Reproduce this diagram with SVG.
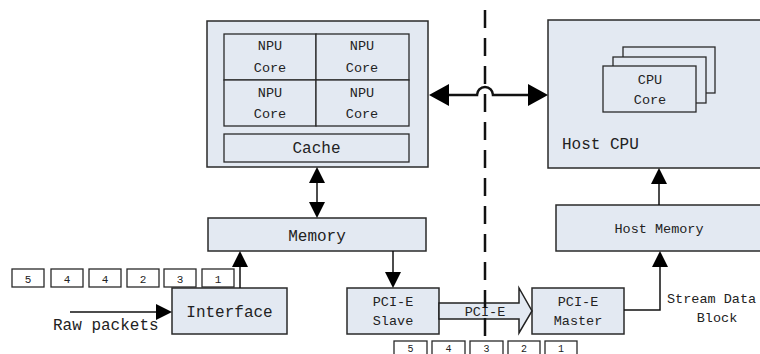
<svg xmlns="http://www.w3.org/2000/svg" width="760" height="354" viewBox="0 0 760 354">
<style>
.box{fill:#e3e9f2;stroke:#2a2a2a;stroke-width:1.5}
.inner{fill:#e3e9f2;stroke:#2a2a2a;stroke-width:1.3}
.pkt{fill:#ffffff;stroke:#2a2a2a;stroke-width:1.3}
.t16{font-family:"Liberation Mono","DejaVu Sans Mono",monospace;font-size:16px;fill:#222}
.t13{font-family:"Liberation Mono","DejaVu Sans Mono",monospace;font-size:13.5px;fill:#222}
.t11{font-family:"Liberation Mono","DejaVu Sans Mono",monospace;font-size:11px;fill:#222}
.t10{font-family:"Liberation Mono","DejaVu Sans Mono",monospace;font-size:10px;fill:#222}
.c{text-anchor:middle}
.ln{fill:none;stroke:#111;stroke-width:1.5}
.thick{fill:none;stroke:#111;stroke-width:2.5}
</style>
<defs>
<marker id="ah" markerUnits="userSpaceOnUse" markerWidth="16" markerHeight="16" viewBox="0 0 16 16" refX="8" refY="8" orient="auto-start-reverse">
<path d="M0,0 L16,8 L0,16 z" fill="#000"/>
</marker>
<marker id="big" markerUnits="userSpaceOnUse" markerWidth="20" markerHeight="22" viewBox="0 0 20 22" refX="10" refY="11" orient="auto-start-reverse">
<path d="M0,0 L20,11 L0,22 z" fill="#000"/>
</marker>
</defs>

<g id="npu">
<rect class="box" x="207" y="21" width="221" height="146"/>
<rect class="inner" x="224" y="34" width="92" height="46"/>
<rect class="inner" x="316" y="34" width="93" height="46"/>
<rect class="inner" x="224" y="80" width="92" height="46"/>
<rect class="inner" x="316" y="80" width="93" height="46"/>
<text class="t13 c" x="270" y="50">NPU</text>
<text class="t13 c" x="270" y="72">Core</text>
<text class="t13 c" x="362" y="50">NPU</text>
<text class="t13 c" x="362" y="72">Core</text>
<text class="t13 c" x="270" y="97">NPU</text>
<text class="t13 c" x="270" y="118">Core</text>
<text class="t13 c" x="362" y="97">NPU</text>
<text class="t13 c" x="362" y="118">Core</text>
<rect class="inner" x="224" y="134" width="185" height="28"/>
<text class="t16 c" x="316.5" y="153">Cache</text>
</g>

<g id="hostcpu">
<rect class="box" x="548" y="20" width="216" height="148"/>
<rect class="inner" x="623" y="47" width="92" height="46"/>
<rect class="inner" x="613" y="57" width="93" height="46"/>
<rect class="inner" x="603" y="66" width="93" height="46"/>
<text class="t13 c" x="650" y="84">CPU</text>
<text class="t13 c" x="650" y="104">Core</text>
<text class="t16" x="562" y="149">Host CPU</text>
</g>

<g id="memory">
<rect class="box" x="208" y="218" width="218" height="33"/>
<text class="t16 c" x="317" y="241">Memory</text>
</g>

<g id="hostmemory">
<rect class="box" x="556" y="205" width="208" height="46"/>
<text class="t13 c" x="659" y="233">Host Memory</text>
</g>

<g id="interface">
<rect class="box" x="172" y="288" width="115" height="46"/>
<text class="t16 c" x="229.5" y="317">Interface</text>
</g>

<g id="pcie-slave">
<rect class="box" x="347" y="288" width="92" height="46"/>
<text class="t13 c" x="393" y="306">PCI-E</text>
<text class="t13 c" x="393" y="325">Slave</text>
</g>

<g id="pcie-master">
<rect class="box" x="532" y="288" width="92" height="46"/>
<text class="t13 c" x="578" y="306">PCI-E</text>
<text class="t13 c" x="578" y="325">Master</text>
</g>

<g id="packets-in">
<rect class="pkt" x="12" y="269" width="32" height="18"/>
<rect class="pkt" x="51" y="269" width="32" height="18"/>
<rect class="pkt" x="89" y="269" width="32" height="18"/>
<rect class="pkt" x="127" y="269" width="32" height="18"/>
<rect class="pkt" x="164" y="269" width="32" height="18"/>
<rect class="pkt" x="202" y="269" width="32" height="18"/>
<text class="t11 c" x="28" y="283">5</text>
<text class="t11 c" x="67" y="283">4</text>
<text class="t11 c" x="105" y="283">4</text>
<text class="t11 c" x="143" y="283">2</text>
<text class="t11 c" x="180" y="283">3</text>
<text class="t11 c" x="218" y="283">1</text>
</g>

<g id="packets-out">
<rect class="pkt" x="394" y="341" width="33" height="18"/>
<rect class="pkt" x="432" y="341" width="33" height="18"/>
<rect class="pkt" x="470" y="341" width="33" height="18"/>
<rect class="pkt" x="508" y="341" width="32" height="18"/>
<rect class="pkt" x="545" y="341" width="32" height="18"/>
<text class="t10 c" x="410.5" y="352">5</text>
<text class="t10 c" x="448.5" y="352">4</text>
<text class="t10 c" x="486.5" y="352">3</text>
<text class="t10 c" x="524" y="352">2</text>
<text class="t10 c" x="561" y="352">1</text>
</g>

<g id="labels">
<text class="t16" x="53" y="330">Raw packets</text>
<text class="t13" x="667" y="303">Stream Data</text>
<text class="t13 c" x="717" y="322">Block</text>
</g>

<g id="connectors">
<path d="M439,303 H519 V288 L532,311 L519,333 V319 H439 Z" fill="#e3e9f2" stroke="#222" stroke-width="1.5"/>
<text class="t13 c" x="485" y="316">PCI-E</text>
<line x1="485" y1="10" x2="485" y2="336" stroke="#111" stroke-width="2.5" stroke-dasharray="18 10"/>
<path class="thick" d="M439,95 H477 A8,8 0 0 1 493,95 H538" marker-start="url(#big)" marker-end="url(#big)"/>
<line class="ln" x1="317" y1="175" x2="317" y2="210" marker-start="url(#ah)" marker-end="url(#ah)"/>
<line class="ln" x1="240" y1="288" x2="240" y2="259" marker-end="url(#ah)"/>
<line class="ln" x1="70" y1="312" x2="164" y2="312" marker-end="url(#ah)"/>
<line class="ln" x1="393" y1="251" x2="393" y2="280" marker-end="url(#ah)"/>
<line class="ln" x1="659" y1="205" x2="659" y2="176" marker-end="url(#ah)"/>
<path class="ln" d="M624,310 H660 V259" marker-end="url(#ah)"/>
</g>
</svg>
